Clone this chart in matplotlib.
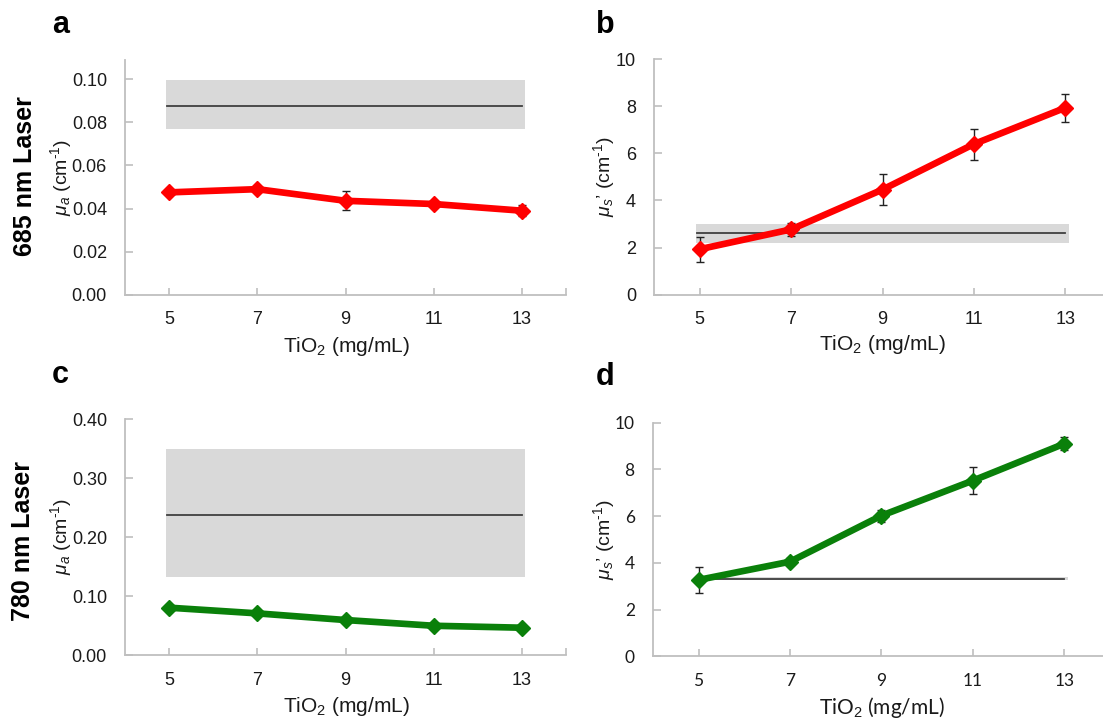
import matplotlib
matplotlib.use('Agg')
import matplotlib.pyplot as plt

plt.rcParams['font.family'] = ['Liberation Sans', 'DejaVu Sans']
plt.rcParams['mathtext.fontset'] = 'custom'
plt.rcParams['mathtext.rm'] = 'Liberation Sans'
plt.rcParams['mathtext.it'] = 'Liberation Sans:italic'
plt.rcParams['mathtext.bf'] = 'Liberation Sans:bold'

# TiO2 concentration (mg/mL)
tio2 = [5, 7, 9, 11, 13]

# 685 nm laser
mua_685 = [0.0475, 0.049, 0.0436, 0.0421, 0.039]
mua_685_err = [0.0008, 0.001, 0.0045, 0.0008, 0.0025]
mus_685 = [1.93, 2.77, 4.46, 6.39, 7.93]
mus_685_err = [0.53, 0.27, 0.65, 0.66, 0.6]

# 780 nm laser
mua_780 = [0.0806, 0.071, 0.0597, 0.050, 0.0467]
mua_780_err = [0.003, 0.003, 0.003, 0.003, 0.003]
mus_780 = [3.27, 4.05, 6.02, 7.52, 9.1]
mus_780_err = [0.57, 0.15, 0.25, 0.59, 0.28]

# reference (mean, low, high) shown as line + grey band
ref_mua_685 = [0.0877, 0.0768, 0.0995]
ref_mus_685 = [2.62, 2.19, 3.01]
ref_mua_780 = [0.238, 0.133, 0.349]
ref_mus_780 = [3.33, 3.28, 3.38]

W, H = 1103, 721
fig = plt.figure(figsize=(W / 100, H / 100), dpi=100)


def px_axes(left, right, top, bottom):
    return fig.add_axes([left / W, 1 - bottom / H, (right - left) / W, (bottom - top) / H])


def panel(ax, y, yerr, ref, color, ylim, yticks, fmt, font, size):
    # grey band and reference line
    ax.fill_between([tio2[0] - 0.08, tio2[-1] + 0.08], ref[1], ref[2],
                    color='#D9D9D9', lw=0, zorder=1)
    ax.plot([tio2[0] - 0.05, tio2[-1]], [ref[0], ref[0]], color='#404040', lw=1.3, zorder=2)

    ax.errorbar(tio2, y, yerr=yerr, fmt='none', ecolor='#222222', elinewidth=1,
                capsize=3, capthick=1, zorder=2.5)
    ax.plot(tio2, y, color=color, lw=4.8, marker='D', ms=8, zorder=3)

    ax.set_xlim(4, 14)
    ax.set_ylim(*ylim)
    ax.set_xticks(tio2)
    ax.set_xticks([14], minor=True)
    ax.set_yticks(yticks)
    ax.set_yticklabels([fmt.format(v) for v in yticks])
    for s in ['top', 'right']:
        ax.spines[s].set_visible(False)
    for s in ['left', 'bottom']:
        ax.spines[s].set_color('#BFBFBF')
        ax.spines[s].set_linewidth(1.3)
    ax.tick_params(axis='y', direction='in', length=6, color='#BFBFBF', width=1.2,
                   pad=13, labelsize=size, labelcolor='#1a1a1a')
    ax.tick_params(axis='x', which='both', direction='in', length=5, color='#BFBFBF',
                   width=1.2, pad=12, labelsize=size, labelcolor='#1a1a1a')
    for lab in ax.get_xticklabels() + ax.get_yticklabels():
        lab.set_fontfamily(font)
    ax.patch.set_alpha(0)


ax_a = px_axes(125, 566, 294.7 - 0.109 * 2154, 294.7)
panel(ax_a, mua_685, mua_685_err, ref_mua_685, '#FF0000', (0, 0.109),
      [0, 0.02, 0.04, 0.06, 0.08, 0.10], '{:.2f}', 'Liberation Sans', 13)

ax_b = px_axes(654, 1111, 59, 294.7)
panel(ax_b, mus_685, mus_685_err, ref_mus_685, '#FF0000', (0, 10),
      [0, 2, 4, 6, 8, 10], '{:.0f}', 'Liberation Sans', 13)

ax_c = px_axes(125, 566, 419, 655.3)
panel(ax_c, mua_780, mua_780_err, ref_mua_780, '#0A800A', (0, 0.4),
      [0, 0.1, 0.2, 0.3, 0.4], '{:.2f}', 'Liberation Sans', 13)

ax_d = px_axes(652.8, 1110, 422.7, 656.3)
panel(ax_d, mus_780, mus_780_err, ref_mus_780, '#0A800A', (0, 10),
      [0, 2, 4, 6, 8, 10], '{:.0f}', 'Lato', 12.5)


def ftext(x, y, s, **kw):
    fig.text(x / W, 1 - y / H, s, **kw)


# axis titles
xlab = 'TiO$_2$ (mg/mL)'
ftext(346, 346, xlab, ha='center', va='center', fontsize=15, color='#1a1a1a')
ftext(882, 345, xlab, ha='center', va='center', fontsize=15, color='#1a1a1a')
ftext(346, 706, xlab, ha='center', va='center', fontsize=15, color='#1a1a1a')
ftext(882, 707, xlab, ha='center', va='center', fontsize=15, color='#1a1a1a', family='Lato')

mua_lab = r'$\mu_a$ (cm$^{\text{-}1}$)'
mus_lab = '$\\mu_s$\u2019 (cm$^{\\text{-}1}$)'
ftext(61, 177, mua_lab, ha='center', va='center', rotation=90, fontsize=14, color='#1a1a1a')
ftext(604, 177, mus_lab, ha='center', va='center', rotation=90, fontsize=14, color='#1a1a1a')
ftext(61, 536, mua_lab, ha='center', va='center', rotation=90, fontsize=14, color='#1a1a1a')
ftext(604, 540, mus_lab, ha='center', va='center', rotation=90, fontsize=14, color='#1a1a1a')

# row labels
ftext(25, 176, '685 nm Laser', ha='center', va='center', rotation=90, fontsize=18, fontweight='bold')
ftext(23, 541, '780 nm Laser', ha='center', va='center', rotation=90, fontsize=18, fontweight='bold')

# panel letters
ftext(52, 33, 'a', ha='left', va='baseline', fontsize=22, fontweight='bold')
ftext(596, 33, 'b', ha='left', va='baseline', fontsize=22, fontweight='bold')
ftext(52, 383, 'c', ha='left', va='baseline', fontsize=22, fontweight='bold')
ftext(596, 385, 'd', ha='left', va='baseline', fontsize=22, fontweight='bold')

fig.savefig('out.png', dpi=100)
